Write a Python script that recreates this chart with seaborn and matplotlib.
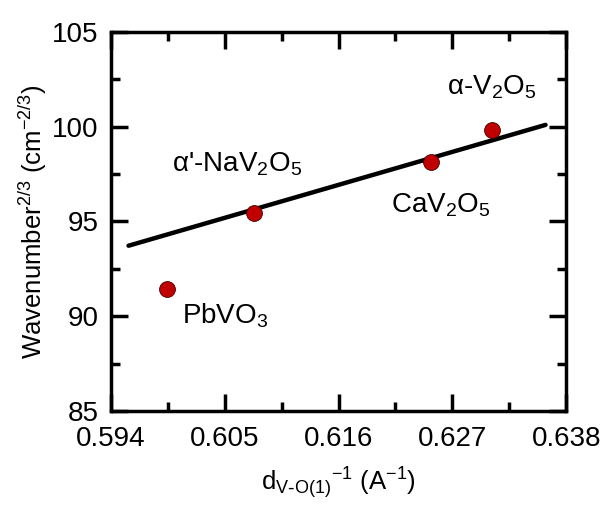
import numpy as np
import pandas as pd
import matplotlib
matplotlib.use('Agg')
import matplotlib.pyplot as plt
import seaborn as sns
from matplotlib.ticker import MultipleLocator

# data
compounds = ["PbVO3", "a'-NaV2O5", "CaV2O5", "a-V2O5"]
inv_d = [0.5994, 0.6078, 0.6249, 0.6308]
wavenumber = [91.42, 95.43, 98.12, 99.83]

# fitted line end points
fit_x = [0.5957, 0.6360]
fit_y = [93.72, 100.09]

labels = [r"PbVO$_3$", r"$\alpha$'-NaV$_2$O$_5$", r"CaV$_2$O$_5$", r"$\alpha$-V$_2$O$_5$"]
label_pos = [(0.6009, 89.64), (0.5999, 97.61), (0.6211, 95.45), (0.6265, 101.68)]

sns.set_style('ticks')
plt.rcParams['font.family'] = ['Liberation Sans', 'DejaVu Sans']
plt.rcParams['mathtext.default'] = 'regular'
plt.rcParams['text.color'] = 'black'
plt.rcParams['axes.labelcolor'] = 'black'
plt.rcParams['xtick.color'] = 'black'
plt.rcParams['ytick.color'] = 'black'
plt.rcParams['axes.edgecolor'] = 'black'

df = pd.DataFrame({'x': inv_d, 'y': wavenumber, 'name': compounds})
line_df = pd.DataFrame({'x': fit_x, 'y': fit_y})

fig = plt.figure(figsize=(6.03, 5.12), dpi=100)
ax = fig.add_axes([0.184, 0.197, 0.755, 0.741])

sns.lineplot(data=line_df, x='x', y='y', color='black', linewidth=3.2, ax=ax)
sns.scatterplot(data=df, x='x', y='y', color='#C00000', edgecolor='#400000',
                linewidth=0.6, s=130, zorder=3, ax=ax)

for lab, (lx, ly) in zip(labels, label_pos):
    ax.text(lx, ly, lab, fontsize=20, va='baseline', ha='left')

ax.set_xlim(0.594, 0.638)
ax.set_ylim(85, 105)
ax.xaxis.set_minor_locator(MultipleLocator(0.0055))
ax.yaxis.set_major_locator(MultipleLocator(5))
ax.yaxis.set_minor_locator(MultipleLocator(2.5))
ax.set_xticks([0.594, 0.605, 0.616, 0.627, 0.638])
ax.set_xticklabels(['0.594', '0.605', '0.616', '0.627', '0.638'])

ax.tick_params(which='both', direction='in', top=True, right=True, width=2.5,
               labelsize=20)
ax.tick_params(axis='x', pad=11)
ax.tick_params(axis='y', pad=9)
ax.tick_params(which='major', length=12.5)
ax.tick_params(which='minor', length=6.5)
for sp in ax.spines.values():
    sp.set_linewidth(2.5)

ax.set_xlabel(r'd$_{V\text{-}O(1)}$$^{-1}$ (A$^{-1}$)', fontsize=18.5, labelpad=9)
ax.set_ylabel(r'Wavenumber$^{2/3}$ (cm$^{-2/3}$)', fontsize=18.5, labelpad=2)

fig.savefig('out.png', dpi=100)
